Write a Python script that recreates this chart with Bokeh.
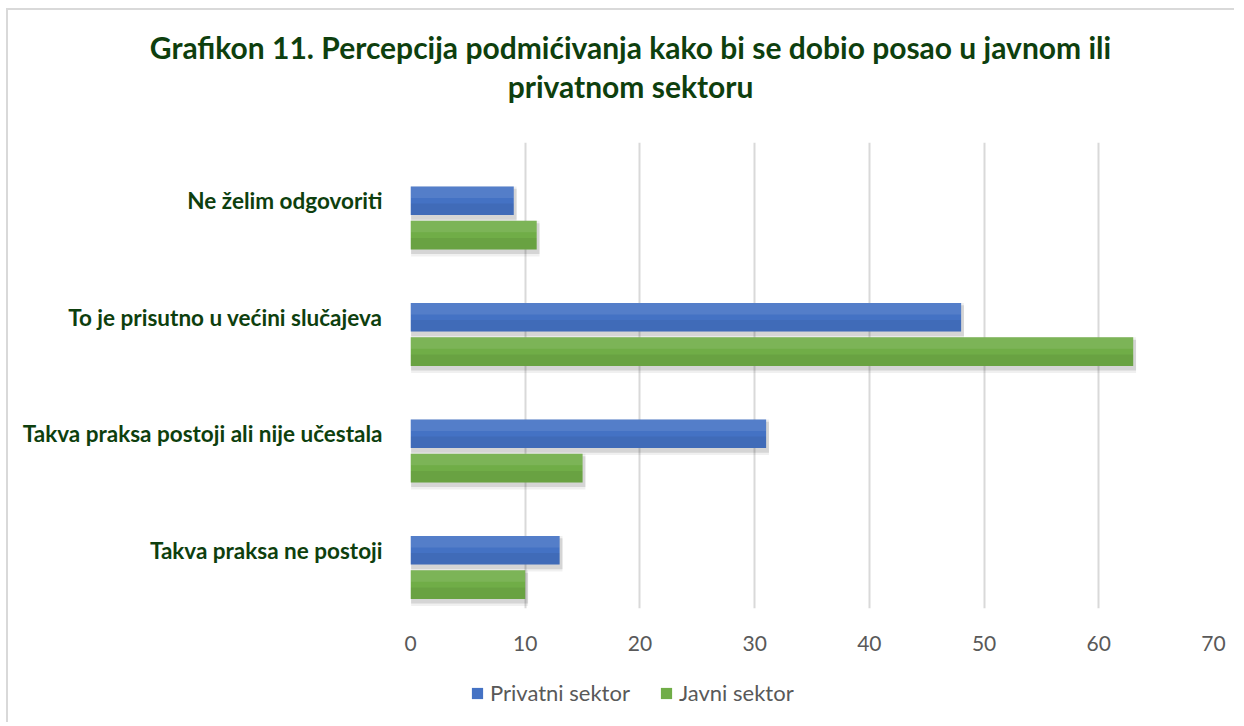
from bokeh.plotting import figure
from bokeh.layouts import column
from bokeh.models import FixedTicker, Legend, LegendItem, Label, Range1d, ColumnDataSource
from bokeh.embed import file_html
from bokeh.resources import INLINE

title_lines = ["Grafikon 11. Percepcija podmićivanja kako bi se dobio posao u javnom ili",
               "privatnom sektoru"]
categories = ["Takva praksa ne postoji",
              "Takva praksa postoji ali nije učestala",
              "To je prisutno u većini slučajeva",
              "Ne želim odgovoriti"]
privatni = [13, 31, 48, 9]
javni = [10, 15, 63, 11]
series_names = ["Privatni sektor", "Javni sektor"]
x_ticks = [0, 10, 20, 30, 40, 50, 60, 70]

BLUE = "#4472C4"
GREEN = "#70AD47"
DKGREEN = "#0E3F0E"
GRAY = "#595959"
FONT = "Lato"
W = 1226

idx = list(range(len(categories)))
blue_y = [i + 0.0 for i in idx]
green_y = [i - 0.295 for i in idx]
H = 0.245

# ---------- main chart (with the title above the frame) ----------
p = figure(width=W, height=132 + 466 + 60, output_backend="svg", toolbar_location=None,
           x_range=Range1d(0, 70), y_range=Range1d(-0.5, 3.5),
           min_border_left=402, min_border_right=21, min_border_top=132, min_border_bottom=60)
p.outline_line_color = None
p.background_fill_color = "white"
p.border_fill_color = "white"

src = ColumnDataSource(dict(by=blue_y, gy=green_y, pv=privatni, jv=javni,
                            bys=[y - 0.03 for y in blue_y], gys=[y - 0.03 for y in green_y],
                            pvs=[v + 0.25 for v in privatni], jvs=[v + 0.25 for v in javni],
                            byt=[y + H * 0.3 for y in blue_y], gyt=[y + H * 0.3 for y in green_y],
                            byb=[y - H * 0.3 for y in blue_y], gyb=[y - H * 0.3 for y in green_y]))

# soft shadows
for a, dh in ((0.06, 0.06), (0.11, 0.02)):
    p.hbar(y="bys", right="pvs", left=0.05, height=H + dh, source=src, fill_color="black",
           fill_alpha=a, line_color=None)
    p.hbar(y="gys", right="jvs", left=0.05, height=H + dh, source=src, fill_color="black",
           fill_alpha=a, line_color=None)

p.hbar(y="by", right="pv", left=0, height=H, source=src, fill_color=BLUE, line_color=None)
p.hbar(y="gy", right="jv", left=0, height=H, source=src, fill_color=GREEN, line_color=None)
# subtle vertical gradient
p.hbar(y="byt", right="pv", left=0, height=H * 0.4, source=src, fill_color="white",
       fill_alpha=0.09, line_color=None)
p.hbar(y="gyt", right="jv", left=0, height=H * 0.4, source=src, fill_color="white",
       fill_alpha=0.09, line_color=None)
p.hbar(y="byb", right="pv", left=0, height=H * 0.4, source=src, fill_color="black",
       fill_alpha=0.06, line_color=None)
p.hbar(y="gyb", right="jv", left=0, height=H * 0.4, source=src, fill_color="black",
       fill_alpha=0.06, line_color=None)

p.xaxis.ticker = FixedTicker(ticks=x_ticks)
p.xaxis.axis_line_color = None
p.xaxis.major_tick_line_color = None
p.xaxis.minor_tick_line_color = None
p.xaxis.major_label_text_font = FONT
p.xaxis.major_label_text_font_size = "21px"
p.xaxis.major_label_text_color = GRAY
p.xaxis.major_label_standoff = 21

p.yaxis.ticker = FixedTicker(ticks=blue_y)
p.yaxis.major_label_overrides = {y: c for y, c in zip(blue_y, categories)}
p.yaxis.axis_line_color = None
p.yaxis.major_tick_line_color = None
p.yaxis.minor_tick_line_color = None
p.yaxis.major_label_text_font = FONT
p.yaxis.major_label_text_font_style = "bold"
p.yaxis.major_label_text_font_size = "22.5px"
p.yaxis.major_label_text_color = DKGREEN
p.yaxis.major_label_standoff = 22

p.xgrid.grid_line_color = "#d9d9d9"
p.xgrid.grid_line_width = 2
p.ygrid.grid_line_color = None

p.add_layout(Label(x=220, y=76, x_units="screen", y_units="screen", text="\n".join(title_lines),
                   text_align="center", text_baseline="middle", text_line_height=1.11,
                   text_font=FONT, text_font_style="bold",
                   text_font_size="30px", text_color=DKGREEN), "above")

# ---------- legend strip ----------
LH = 54
pl = figure(width=W, height=LH, output_backend="svg", toolbar_location=None,
            x_range=Range1d(0, 70), y_range=Range1d(10, 11),
            x_axis_location=None, y_axis_location=None, min_border=0)
pl.outline_line_color = None
pl.background_fill_color = "white"
pl.border_fill_color = "white"
pl.xgrid.grid_line_color = None
pl.ygrid.grid_line_color = None
# same series, outside this strip's visible range: only their legend swatches show
lb = pl.hbar(y="by", right="pv", left=0, height=H, source=src, fill_color=BLUE, line_color=None)
lg = pl.hbar(y="gy", right="jv", left=0, height=H, source=src, fill_color=GREEN, line_color=None)
legend = Legend(items=[LegendItem(label=series_names[0], renderers=[lb]),
                       LegendItem(label=series_names[1], renderers=[lg])],
                orientation="horizontal", location=(60, 16))
legend.border_line_color = None
legend.background_fill_alpha = 0
legend.glyph_width = 14
legend.glyph_height = 14
legend.label_text_font = FONT
legend.label_text_font_size = "22px"
legend.label_text_color = GRAY
legend.label_standoff = 6
legend.spacing = 29
legend.padding = 4
legend.margin = 0
pl.add_layout(legend, "center")

page = column(p, pl, spacing=0)
page.margin = (8, 0, 0, 6)
page.styles = {"border-top": "2px solid #d9d9d9", "border-left": "2px solid #d9d9d9"}

open("out.html", "w").write(file_html(page, INLINE))
